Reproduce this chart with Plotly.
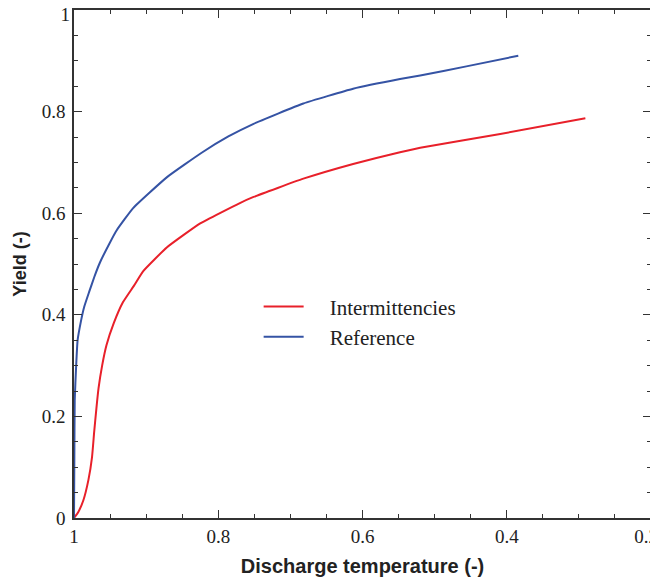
"""Yield vs discharge temperature, reference vs intermittencies."""

import plotly.graph_objects as go

# values
ref_temp = [1.0, 0.9995, 0.999, 0.997, 0.995, 0.990, 0.986, 0.979, 0.972, 0.964,
            0.951, 0.941, 0.918, 0.871, 0.823, 0.786, 0.751, 0.682, 0.613, 0.548,
            0.520, 0.456, 0.384]
ref_yield = [0.0, 0.12, 0.232, 0.300, 0.350, 0.390, 0.415, 0.445, 0.474, 0.503,
             0.540, 0.566, 0.610, 0.671, 0.719, 0.751, 0.776, 0.816, 0.845, 0.864,
             0.871, 0.889, 0.910]

int_temp = [1.0, 0.994, 0.987, 0.980, 0.975, 0.972, 0.969, 0.966, 0.961, 0.955,
            0.945, 0.932, 0.917, 0.904, 0.871, 0.825, 0.770, 0.751, 0.682, 0.613,
            0.548, 0.520, 0.409, 0.291]
int_yield = [0.0, 0.012, 0.035, 0.075, 0.120, 0.170, 0.215, 0.255, 0.300, 0.340,
             0.383, 0.425, 0.457, 0.486, 0.533, 0.580, 0.620, 0.632, 0.668, 0.697,
             0.720, 0.729, 0.756, 0.787]

x_ticks = [1, 0.8, 0.6, 0.4, 0.2]
y_ticks = [0, 0.2, 0.4, 0.6, 0.8, 1]

serif = "Liberation Serif, Times New Roman, serif"
sans = "Liberation Sans, Arial, sans-serif"
nb = '\u00a0'
tick_font = dict(family=serif, size=19, color='#222')

fig = go.Figure()
fig.add_trace(go.Scatter(
    x=int_temp, y=int_yield, mode='lines', name=nb * 4 + 'Intermittencies',
    line=dict(color='#e8202a', width=2, shape='spline', smoothing=0.4),
))
fig.add_trace(go.Scatter(
    x=ref_temp, y=ref_yield, mode='lines', name=nb * 4 + 'Reference',
    line=dict(color='#3553a4', width=2, shape='spline', smoothing=0.4),
))
# invisible copy so the overlay axes (edge labels "1" and "0.2") get drawn
fig.add_trace(go.Scatter(
    x=ref_temp, y=ref_yield, mode='lines', xaxis='x2', yaxis='y2', opacity=0,
    showlegend=False, hoverinfo='skip', line=dict(width=0),
))

axis_common = dict(
    showgrid=False, zeroline=False, automargin=False,
    showline=True, linecolor='#333', linewidth=1.5, mirror='ticks',
    ticks='inside', ticklen=8, tickwidth=1, tickcolor='#333',
    tickfont=tick_font,
    minor=dict(ticks='inside', ticklen=4, tickwidth=1, tickcolor='#333', dtick=0.05),
)
overlay_common = dict(
    automargin=False, showgrid=False, zeroline=False, showline=False, ticks='',
    ticklabeloverflow='allow', tickfont=tick_font,
)

# edge labels are drawn by the overlay axes, nudged to stay on the page
x_text = [f'{v:g}' for v in x_ticks]
edge_x = x_text[-1]
x_text[-1] = ''
y_text = [f'{v:g}' for v in y_ticks]
edge_y = y_text[-1]
y_text[-1] = ''

# the page body adds an 8px margin, so the figure is 8px smaller each way
fig.update_layout(
    width=650, height=569,
    margin=dict(l=66, r=7, t=2, b=59),
    plot_bgcolor='white', paper_bgcolor='white',
    xaxis=dict(
        axis_common, range=[1, 0.2], tickvals=x_ticks, ticktext=x_text,
        title=dict(text='<b>Discharge temperature (-)</b>',
                   font=dict(family=sans, size=20, color='#222'), standoff=13),
    ),
    yaxis=dict(
        axis_common, range=[0, 1], tickvals=y_ticks,
        ticktext=y_text, ticklabelstandoff=3,
        title=dict(text='<b>Yield (-)</b>',
                   font=dict(family=sans, size=18, color='#222'), standoff=10),
    ),
    xaxis2=dict(
        overlay_common, overlaying='x', side='bottom', range=[1, 0.2],
        tickvals=[x_ticks[-1]], ticktext=[edge_x], ticklabelshift=5,
        ticklabelstandoff=5,
    ),
    yaxis2=dict(
        overlay_common, overlaying='y', side='left', range=[0, 1],
        tickvals=[y_ticks[-1]], ticktext=[edge_y], ticklabelshift=4,
        ticklabelstandoff=3,
    ),
    legend=dict(
        x=0.32, y=0.456, xanchor='left', yanchor='top',
        bgcolor='rgba(0,0,0,0)',
        font=dict(family=serif, size=21, color='#222'),
        itemwidth=40,
    ),
)

fig.write_html("out.html")
